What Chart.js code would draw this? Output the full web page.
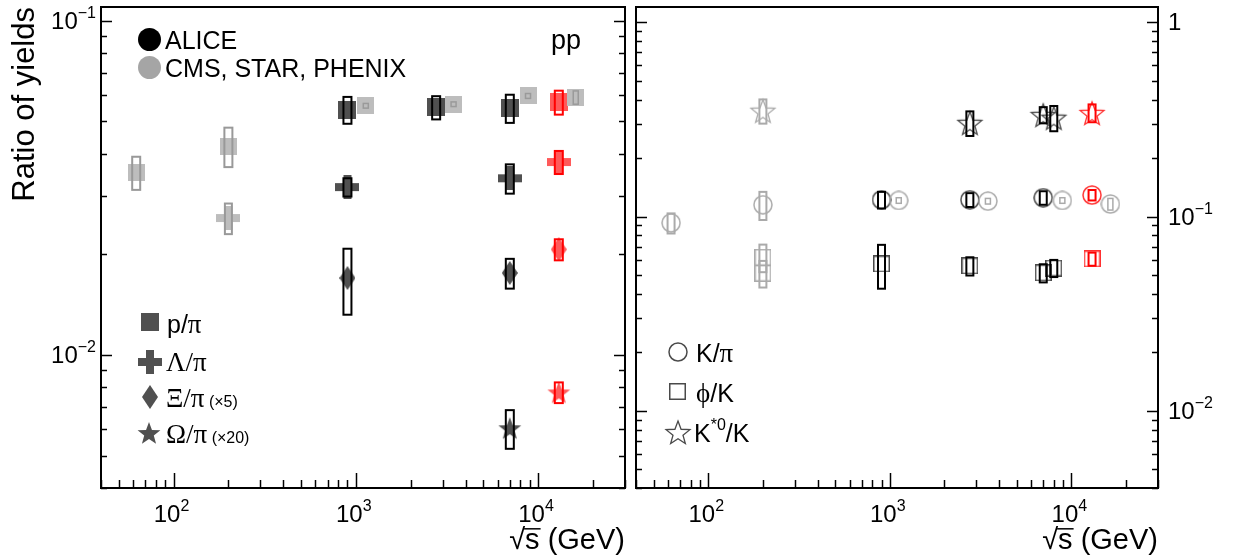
<!DOCTYPE html>
<html><head><meta charset="utf-8">
<script src="https://cdn.jsdelivr.net/npm/chart.js@4"></script>
<style>
html,body{margin:0;padding:0;background:#fff;width:1233px;height:560px;overflow:hidden}
#c1{position:absolute;left:0;top:0}
#c2{position:absolute;left:630px;top:0}
</style></head><body>
<canvas id="c1" width="630" height="560"></canvas>
<canvas id="c2" width="603" height="560"></canvas>
<script>
// ---------------- data (left panel: baryon / pion) ----------------
const pPiAliceX = [900, 2760, 7000];
const pPiAliceY = [0.0542, 0.0551, 0.0548];
const pPiAliceSys = [0.0050, 0.0044, 0.0053];
const pPi13X = [13000];
const pPi13Y = [0.0571];
const pPi13Sys = [0.0047];
const pPiStarX = [62.4, 200];
const pPiStarY = [0.0352, 0.0422];
const pPiStarSys = [0.0040, 0.0057];
const pPiCmsX = [1135, 3440, 8810, 16100];
const pPiCmsY = [0.0557, 0.0563, 0.0596, 0.0590];
const pPiCmsSys = [0.0009, 0.0009, 0.0010, 0.0027];

const lamPiAliceX = [900, 7000];
const lamPiAliceY = [0.0318, 0.0338];
const lamPiAliceSys = [0.0020, 0.0034];
const lamPi13X = [13000];
const lamPi13Y = [0.0378];
const lamPi13Sys = [0.0030];
const lamPiStarX = [200];
const lamPiStarY = [0.0257];
const lamPiStarSys = [0.0027];

const xiPiAliceX = [900, 7000];          // (x5)
const xiPiAliceY = [0.0170, 0.0176];
const xiPiAliceSys = [0.0038, 0.0018];
const xiPi13X = [13000];
const xiPi13Y = [0.0207];
const xiPi13Sys = [0.0015];

const omPiAliceX = [7000];               // (x20)
const omPiAliceY = [0.00604];
const omPiAliceSys = [0.0008];
const omPi13X = [13000];
const omPi13Y = [0.00773];
const omPi13Sys = [0.00055];

// ---------------- data (right panel: mesons) ----------------
const kPiAliceX = [900, 2760, 7000];
const kPiAliceY = [0.122, 0.122, 0.125];
const kPiAliceSys = [0.012, 0.010, 0.010];
const kPi13X = [13000];
const kPi13Y = [0.129];
const kPi13Sys = [0.008];
const kPiStarX = [62.4, 200];
const kPiStarY = [0.0928, 0.115];
const kPiStarSys = [0.011, 0.019];
const kPiCmsX = [1120, 3470, 8920, 16400];
const kPiCmsY = [0.121, 0.120, 0.121, 0.116];
const kPiCmsSys = [0.004, 0.004, 0.004, 0.008];

const phiKAliceX = [900, 2760, 7000, 8000];
const phiKAliceY = [0.0570, 0.0557, 0.0513, 0.0543];
const phiKAliceSys = [0.0145, 0.0060, 0.0055, 0.0055];
const phiK13X = [13000];
const phiK13Y = [0.0605];
const phiK13Sys = [0.0047];
const phiKStarX = [200, 200];
const phiKStarY = [0.0617, 0.0511];
const phiKStarSys = [0.0100, 0.0080];

const kstKAliceX = [2760, 7000, 8000];
const kstKAliceY = [0.304, 0.334, 0.323];
const kstKAliceSys = [0.044, 0.032, 0.048];
const kstK13X = [13000];
const kstK13Y = [0.342];
const kstK13Sys = [0.036];
const kstKStarX = [200];
const kstKStarY = [0.351];
const kstKStarSys = [0.050];

const xTickValues = [100, 1000, 10000];
const leftYTickValues = [0.01, 0.1];
const rightYTickValues = [0.01, 0.1, 1];

// ---------------- styling ----------------
const SANS = '"Liberation Sans", Arial, Helvetica, sans-serif';
const SERIF = '"Liberation Serif", "Times New Roman", serif';
const ALICE_FILL = '#505050', OTHER_FILL = '#bdbdbd', RED_FILL = '#ff5a5a';
const ALICE_OPEN = '#4a4a4a', OTHER_OPEN = '#ababab', RED_OPEN = '#ff3030';
const XTITLE_SIZE = 29;

function mk(w, h, draw) { const c = document.createElement('canvas'); c.width = w; c.height = h; draw(c.getContext('2d'), w, h); return c; }
function mSquare(s, fill) { return mk(s, s, g => { g.fillStyle = fill; g.fillRect(0, 0, s, s); }); }
function mCross(s, arm, fill) { return mk(s, s, g => { const o = (s - arm) / 2; g.fillStyle = fill; g.beginPath();
  g.moveTo(o,0); g.lineTo(o+arm,0); g.lineTo(o+arm,o); g.lineTo(s,o); g.lineTo(s,o+arm); g.lineTo(o+arm,o+arm);
  g.lineTo(o+arm,s); g.lineTo(o,s); g.lineTo(o,o+arm); g.lineTo(0,o+arm); g.lineTo(0,o); g.lineTo(o,o); g.closePath(); g.fill(); }); }
function mDiamond(w, h, fill) { return mk(w, h, g => { g.fillStyle = fill; g.beginPath(); g.moveTo(w/2,0); g.lineTo(w,h/2); g.lineTo(w/2,h); g.lineTo(0,h/2); g.closePath(); g.fill(); }); }
function starPath(g, cx, cy, R, r) { g.beginPath(); for (let i = 0; i < 10; i++) { const a = -Math.PI/2 + i*Math.PI/5; const rr = i%2 ? r : R; const px = cx + rr*Math.cos(a), py = cy + rr*Math.sin(a); if (i) g.lineTo(px,py); else g.moveTo(px,py); } g.closePath(); }
function mStar(s, fill) { return mk(s, s, g => { g.fillStyle = fill; starPath(g, s/2, s/2+1, s/2, s/2*0.42); g.fill(); }); }
function mOpenStar(s, stroke) { return mk(s, s, g => { g.strokeStyle = stroke; g.lineWidth = 1.3; starPath(g, s/2, s/2+1.5, s/2-1.5, (s/2-1.5)*0.42); g.stroke(); }); }
function mOpenCircle(d, stroke) { return mk(d, d, g => { g.strokeStyle = stroke; g.lineWidth = 1.5; g.beginPath(); g.arc(d/2, d/2, d/2-1, 0, 2*Math.PI); g.stroke(); }); }
function mOpenSquare(s, stroke) { return mk(s, s, g => { g.strokeStyle = stroke; g.lineWidth = 1.5; g.strokeRect(0.75, 0.75, s-1.5, s-1.5); }); }
function mDisc(d, fill) { return mk(d, d, g => { g.fillStyle = fill; g.beginPath(); g.arc(d/2, d/2, d/2, 0, 2*Math.PI); g.fill(); }); }

function pts(xs, ys) { return xs.map((x, i) => ({ x: x, y: ys[i] })); }
function ds(label, xs, ys, sys, style, boxColor, boxW, boxFill) {
  return { label, data: pts(xs, ys), sys, pointStyle: style, boxColor, boxW, boxFill,
           showLine: false, pointRadius: 3, pointHoverRadius: 3 };
}

function fontStr(s) { return (s.style || '') + ' ' + s.size + 'px ' + (s.family || SANS); }
function drawRich(ctx, segs, x, y, align) {
  let total = 0;
  segs.forEach(s => { ctx.font = fontStr(s); s.w = ctx.measureText(s.t).width; total += s.w; });
  let cx = align === 'right' ? x - total : align === 'center' ? x - total/2 : x;
  ctx.textAlign = 'left'; ctx.textBaseline = 'alphabetic'; ctx.fillStyle = '#000';
  segs.forEach(s => { ctx.font = fontStr(s); ctx.fillText(s.t, cx, y + (s.dy || 0)); cx += s.w; });
}
function powSegs(v) {
  const e = Math.round(Math.log10(v));
  if (e === 0) return [{ t: '1', size: 24 }];
  return [{ t: '10', size: 24 }, { t: (e < 0 ? '\u2212' : '') + Math.abs(e), size: 16, dy: -11 }];
}

function drawBoxes(chart, fillPass) {
  const ctx = chart.ctx, xs = chart.scales.x, ys = chart.scales.y;
  ctx.save();
  chart.data.datasets.forEach(d => {
    if (!d.sys) return;
    d.data.forEach((p, i) => {
      const px = xs.getPixelForValue(p.x);
      const top = ys.getPixelForValue(p.y + d.sys[i]);
      const bot = ys.getPixelForValue(p.y - d.sys[i]);
      const w = d.boxW;
      if (fillPass) {
        if (d.boxFill) { ctx.fillStyle = '#fff'; ctx.fillRect(px - w/2, top, w, bot - top); }
      } else {
        ctx.strokeStyle = d.boxColor; ctx.lineWidth = d.boxW > 6 ? 2 : 1.5;
        ctx.strokeRect(px - w/2, top, w, bot - top);
      }
    });
  });
  ctx.restore();
}

function axesDecor(chart, side) {
  const ctx = chart.ctx, a = chart.chartArea, x = chart.scales.x, y = chart.scales.y;
  ctx.save();
  ctx.strokeStyle = '#000'; ctx.lineWidth = 1.5;
  const line = (x1, y1, x2, y2) => { ctx.beginPath(); ctx.moveTo(x1, y1); ctx.lineTo(x2, y2); ctx.stroke(); };
  for (let e = 1; e <= 4; e++) for (let m = 1; m <= 9; m++) {
    const v = m * Math.pow(10, e);
    if (v < x.min || v > x.max) continue;
    const px = Math.round(x.getPixelForValue(v)) + 0.5;
    line(px, a.bottom, px, a.bottom - (m === 1 ? 15 : 8));
  }
  for (let e = -3; e <= 0; e++) for (let m = 1; m <= 9; m++) {
    const v = m * Math.pow(10, e);
    if (v < y.min * 0.999 || v > y.max * 1.001) continue;
    const py = Math.round(y.getPixelForValue(v)) + 0.5;
    const L = m === 1 ? 11 : 6;
    line(a.left, py, a.left + L, py);
    line(a.right, py, a.right - L, py);
  }
  ctx.lineWidth = 2;
  ctx.strokeRect(a.left, a.top, a.right - a.left, a.bottom - a.top);
  // tick labels
  xTickValues.forEach(v => drawRich(ctx, powSegs(v), x.getPixelForValue(v) - 2, a.bottom + 34, 'center'));
  const yv = side === 'left' ? leftYTickValues : rightYTickValues;
  yv.forEach(v => {
    const py = y.getPixelForValue(v) + 8;
    if (side === 'left') drawRich(ctx, powSegs(v), a.left - 5, py, 'right');
    else drawRich(ctx, powSegs(v), a.right + 10, py, 'left');
  });
  // overline of the radical in the x title
  ctx.font = XTITLE_SIZE + 'px ' + SANS;
  const wRest = ctx.measureText(' (GeV)').width, wS = ctx.measureText('s').width;
  const sx = a.right - wRest - wS;
  const base = 560 - 2 - XTITLE_SIZE * 0.6 + XTITLE_SIZE * 0.3465;
  ctx.lineWidth = 1.5;
  line(sx - 1, base - 0.77 * XTITLE_SIZE + 0.5, sx + wS + 1, base - 0.77 * XTITLE_SIZE + 0.5);
  ctx.restore();
}

function baseOptions(yMin, yMax, yPos, yWidth, padding, yTitle) {
  return {
    responsive: false, animation: false, devicePixelRatio: 1,
    layout: { padding },
    plugins: { legend: { display: false }, tooltip: { enabled: false } },
    scales: {
      x: { type: 'logarithmic', min: 40, max: 30000, position: 'bottom',
           ticks: { display: false }, grid: { display: false }, border: { display: false },
           title: { display: true, text: '\u221As (GeV)', align: 'end', color: '#000',
                    font: { family: SANS, size: XTITLE_SIZE }, padding: { top: 0, bottom: 2 } },
           afterFit(s) { s.height = 72; } },
      y: { type: 'logarithmic', min: yMin, max: yMax, position: yPos,
           ticks: { display: false }, grid: { display: false }, border: { display: false },
           title: { display: !!yTitle, text: yTitle || '', align: 'end', color: '#000',
                    font: { family: SANS, size: 31 }, padding: { top: 7 } },
           afterFit(s) { s.width = yWidth; } }
    }
  };
}

const sq = mSquare(18, ALICE_FILL), sqG = mSquare(17, OTHER_FILL), sqR = mSquare(18, RED_FILL);
const crA = mCross(24, 8, ALICE_FILL), crG = mCross(24, 8, OTHER_FILL), crR = mCross(24, 8, RED_FILL);
const diA = mDiamond(16, 24, ALICE_FILL), diR = mDiamond(16, 24, RED_FILL);
const stA = mStar(24, ALICE_FILL), stR = mStar(24, RED_FILL);

const leftChart = new Chart(document.getElementById('c1'), {
  type: 'scatter',
  data: { datasets: [
    ds('p/\u03C0 STAR, PHENIX', pPiStarX, pPiStarY, pPiStarSys, sqG, '#999999', 8, true),
    ds('p/\u03C0 CMS', pPiCmsX, pPiCmsY, pPiCmsSys, sqG, '#9a9a9a', 5, true),
    ds('p/\u03C0 ALICE', pPiAliceX, pPiAliceY, pPiAliceSys, sq, '#000000', 8, true),
    ds('p/\u03C0 ALICE 13 TeV', pPi13X, pPi13Y, pPi13Sys, sqR, '#ff0000', 8, true),
    ds('\u039B/\u03C0 STAR', lamPiStarX, lamPiStarY, lamPiStarSys, crG, '#999999', 7, true),
    ds('\u039B/\u03C0 ALICE', lamPiAliceX, lamPiAliceY, lamPiAliceSys, crA, '#000000', 8, true),
    ds('\u039B/\u03C0 ALICE 13 TeV', lamPi13X, lamPi13Y, lamPi13Sys, crR, '#ff0000', 8, true),
    ds('\u039E/\u03C0 (x5) ALICE', xiPiAliceX, xiPiAliceY, xiPiAliceSys, diA, '#000000', 8, true),
    ds('\u039E/\u03C0 (x5) ALICE 13 TeV', xiPi13X, xiPi13Y, xiPi13Sys, diR, '#ff0000', 8, true),
    ds('\u03A9/\u03C0 (x20) ALICE', omPiAliceX, omPiAliceY, omPiAliceSys, stA, '#000000', 8, true),
    ds('\u03A9/\u03C0 (x20) ALICE 13 TeV', omPi13X, omPi13Y, omPi13Sys, stR, '#ff0000', 8, true)
  ] },
  options: baseOptions(0.004, 0.11, 'left', 101, { left: 0, right: 5, top: 7, bottom: 0 }, 'Ratio of yields'),
  plugins: [{
    id: 'leftDecor',
    beforeDatasetsDraw(c) { drawBoxes(c, true); },
    afterDatasetsDraw(c) { drawBoxes(c, false); },
    afterDraw(c) {
      axesDecor(c, 'left');
      const ctx = c.ctx;
      ctx.drawImage(mDisc(23, '#000000'), 138, 28);
      ctx.drawImage(mDisc(23, '#a5a5a5'), 138, 56);
      drawRich(ctx, [{ t: 'ALICE', size: 25 }], 165, 49, 'left');
      drawRich(ctx, [{ t: 'CMS, STAR, PHENIX', size: 25 }], 165, 77, 'left');
      drawRich(ctx, [{ t: 'pp', size: 27 }], 551, 49, 'left');
      ctx.drawImage(sq, 141, 313);
      ctx.drawImage(crA, 138, 350);
      ctx.drawImage(diA, 142, 385);
      ctx.drawImage(stA, 137, 421);
      drawRich(ctx, [{ t: 'p/', size: 25 }, { t: '\u03C0', size: 27, family: SERIF }], 167, 333, 'left');
      drawRich(ctx, [{ t: '\u039B/\u03C0', size: 27, family: SERIF }], 166, 371, 'left');
      drawRich(ctx, [{ t: '\u039E/\u03C0', size: 27, family: SERIF }, { t: ' (\u00D75)', size: 16 }], 166, 407, 'left');
      drawRich(ctx, [{ t: '\u03A9/\u03C0', size: 27, family: SERIF }, { t: ' (\u00D720)', size: 16 }], 166, 443, 'left');
    }
  }]
});

const ciA = mOpenCircle(20, ALICE_OPEN), ciG = mOpenCircle(20, OTHER_OPEN), ciR = mOpenCircle(20, RED_OPEN);
const osA = mOpenSquare(17, ALICE_OPEN), osG = mOpenSquare(17, OTHER_OPEN), osR = mOpenSquare(17, RED_OPEN);
const ostA = mOpenStar(28, ALICE_OPEN), ostG = mOpenStar(28, OTHER_OPEN), ostR = mOpenStar(28, RED_OPEN);

const rightChart = new Chart(document.getElementById('c2'), {
  type: 'scatter',
  data: { datasets: [
    ds('K/\u03C0 STAR, PHENIX', kPiStarX, kPiStarY, kPiStarSys, ciG, '#aaaaaa', 7, false),
    ds('K/\u03C0 CMS', kPiCmsX, kPiCmsY, kPiCmsSys, ciG, '#aaaaaa', 5, false),
    ds('K/\u03C0 ALICE', kPiAliceX, kPiAliceY, kPiAliceSys, ciA, '#000000', 7, false),
    ds('K/\u03C0 ALICE 13 TeV', kPi13X, kPi13Y, kPi13Sys, ciR, '#ff0000', 7, false),
    ds('\u03D5/K STAR', phiKStarX, phiKStarY, phiKStarSys, osG, '#aaaaaa', 7, false),
    ds('\u03D5/K ALICE', phiKAliceX, phiKAliceY, phiKAliceSys, osA, '#000000', 7, false),
    ds('\u03D5/K ALICE 13 TeV', phiK13X, phiK13Y, phiK13Sys, osR, '#ff0000', 7, false),
    ds('K*0/K STAR', kstKStarX, kstKStarY, kstKStarSys, ostG, '#aaaaaa', 7, false),
    ds('K*0/K ALICE', kstKAliceX, kstKAliceY, kstKAliceSys, ostA, '#000000', 7, false),
    ds('K*0/K ALICE 13 TeV', kstK13X, kstK13Y, kstK13Sys, ostR, '#ff0000', 7, false)
  ] },
  options: baseOptions(0.004, 1.2, 'right', 75, { left: 6, right: 0, top: 7, bottom: 0 }, null),
  plugins: [{
    id: 'rightDecor',
    afterDatasetsDraw(c) { drawBoxes(c, false); },
    afterDraw(c) {
      axesDecor(c, 'right');
      const ctx = c.ctx;
      ctx.drawImage(ciA, 38, 342);
      ctx.drawImage(osA, 39, 383);
      ctx.drawImage(ostA, 34, 418);
      drawRich(ctx, [{ t: 'K/', size: 25 }, { t: '\u03C0', size: 27, family: SERIF }], 66, 362, 'left');
      drawRich(ctx, [{ t: '\u03D5', size: 27, family: SERIF }, { t: '/K', size: 25 }], 66, 402, 'left');
      drawRich(ctx, [{ t: 'K', size: 25 }, { t: '*0', size: 16, dy: -12 }, { t: '/K', size: 25 }], 64, 442, 'left');
    }
  }]
});
</script>
</body></html>
